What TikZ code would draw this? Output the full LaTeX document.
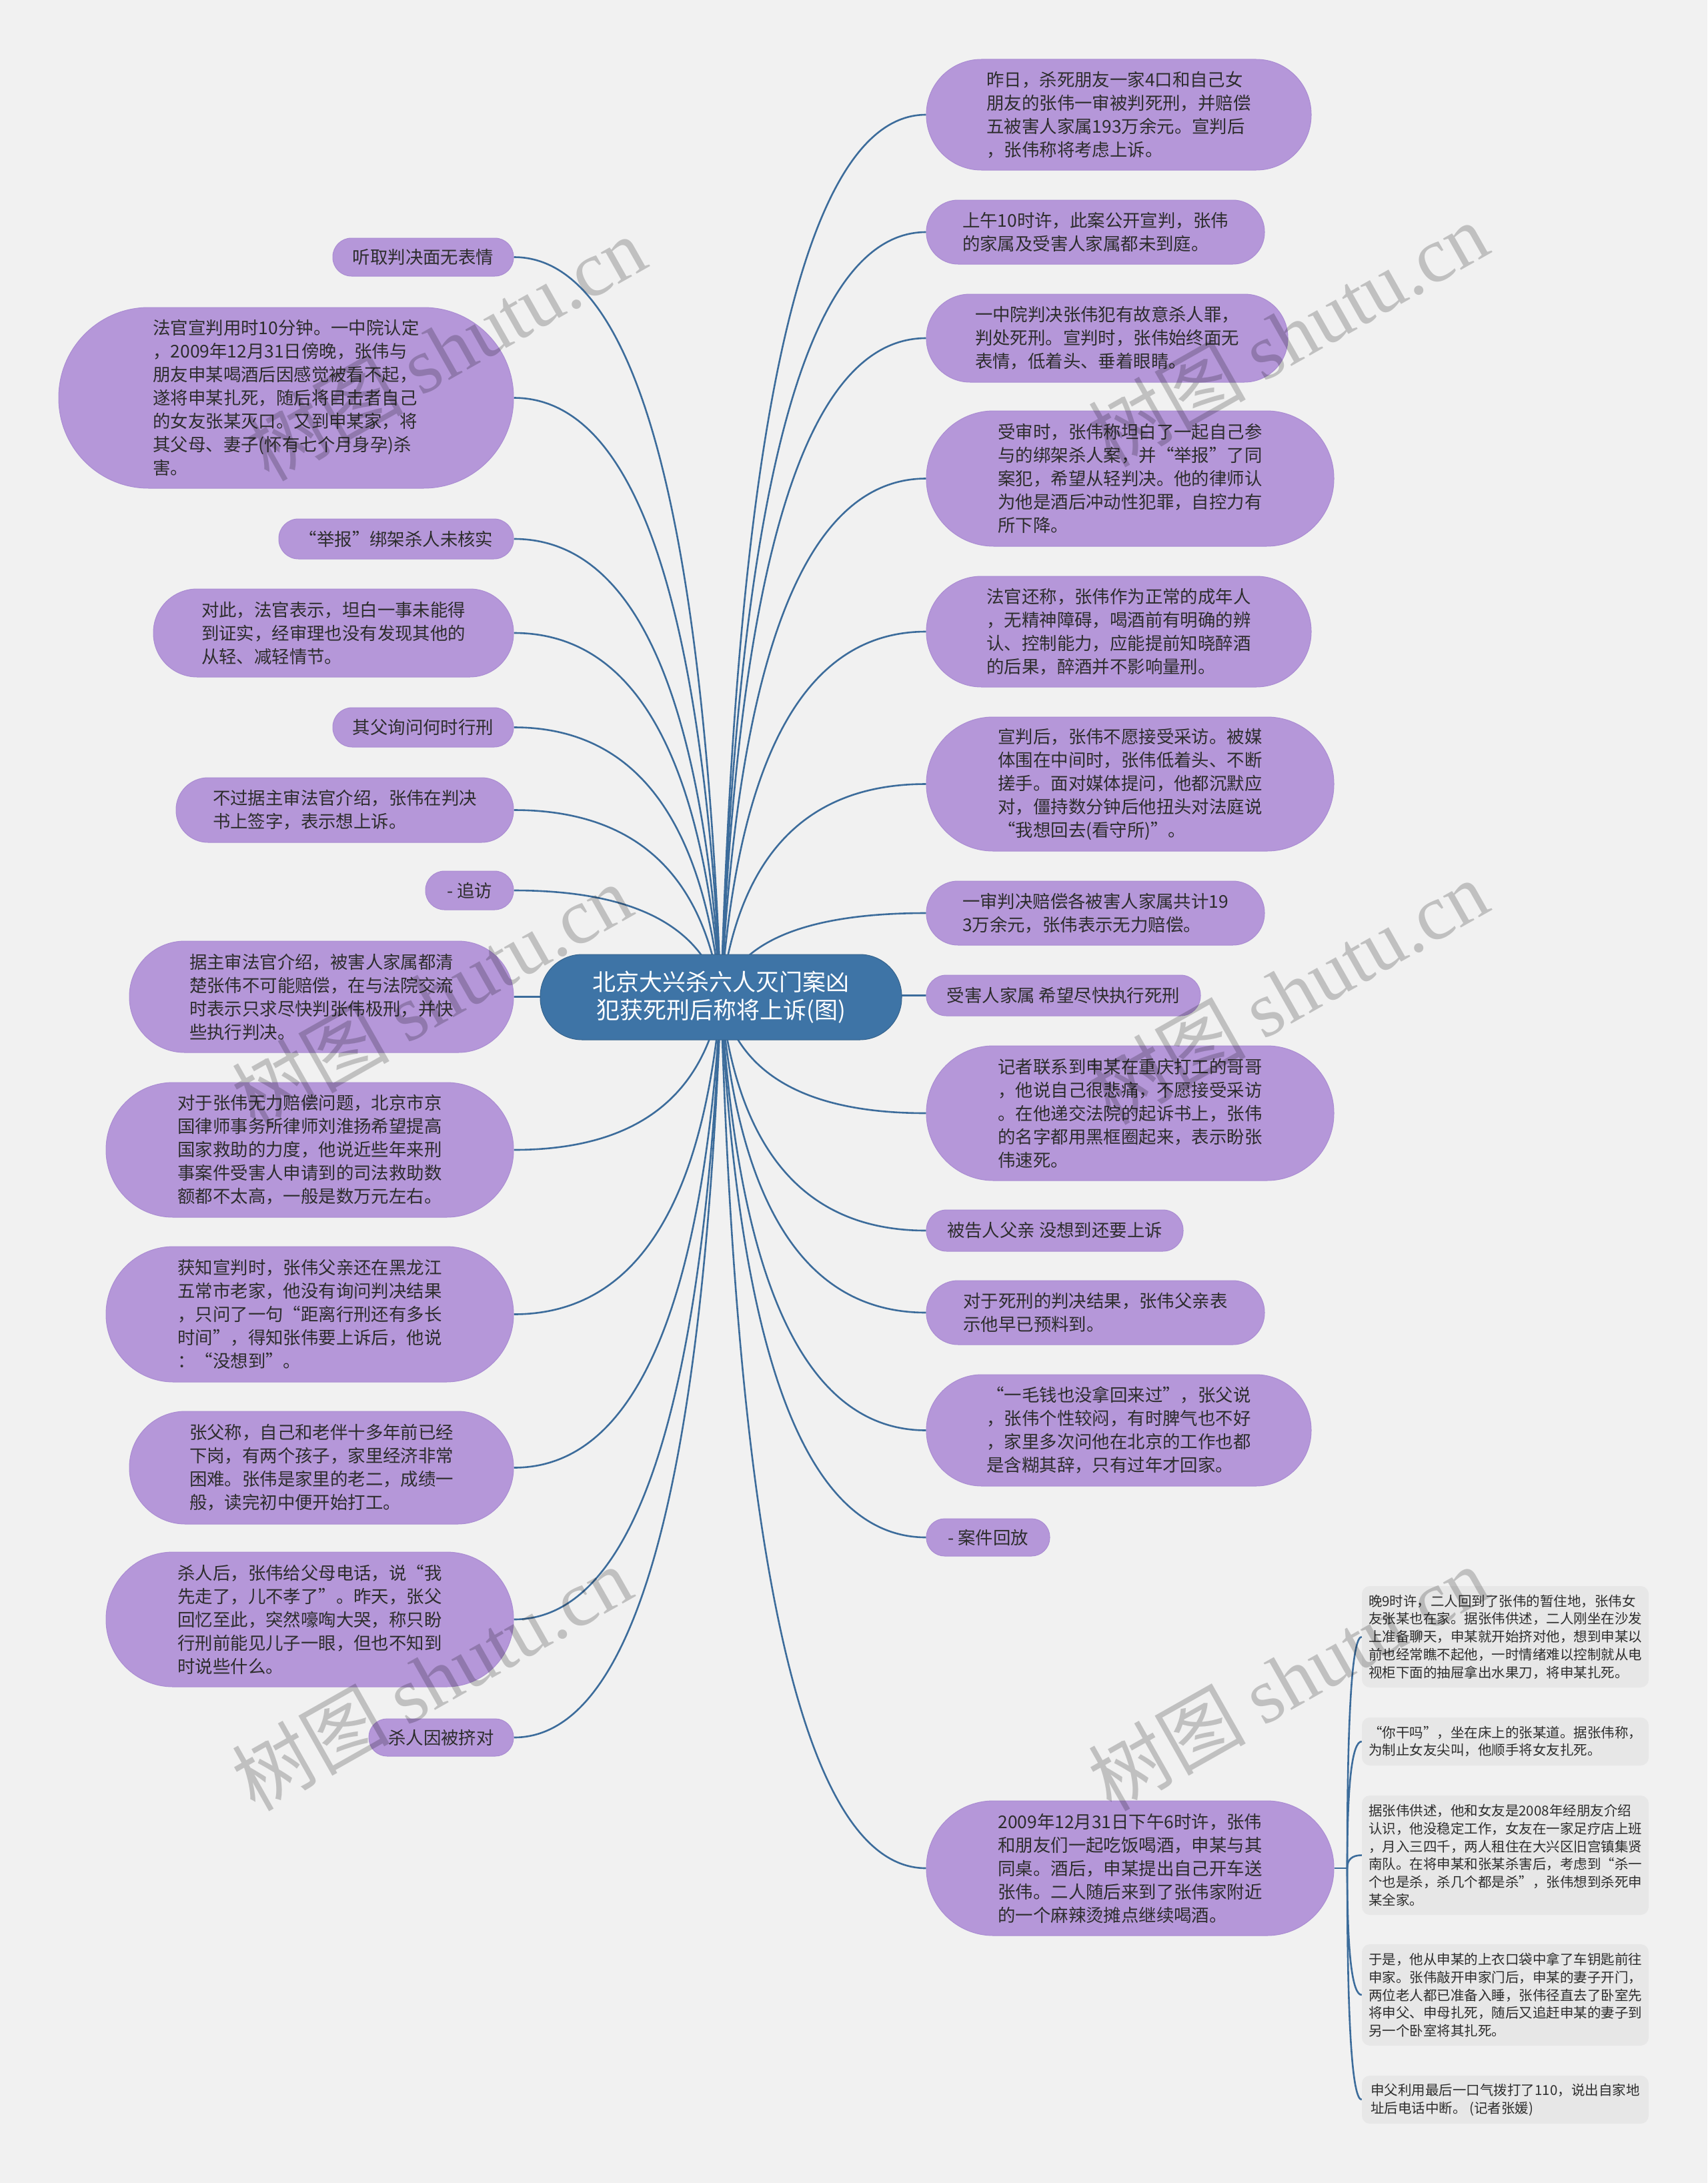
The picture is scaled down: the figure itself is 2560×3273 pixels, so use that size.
\documentclass[tikz,border=0pt]{standalone}
\usepackage{fontspec}
\setmainfont{Noto Sans CJK SC}
\newfontfamily\wmserif{Liberation Serif}
\usetikzlibrary{calc}
\definecolor{bgc}{RGB}{241,241,241}
\definecolor{pur}{RGB}{181,151,217}
\definecolor{purd}{RGB}{170,140,210}
\definecolor{cblue}{RGB}{62,116,166}
\definecolor{lnc}{RGB}{60,108,155}
\definecolor{gbox}{RGB}{231,231,231}
\definecolor{txt}{RGB}{45,45,45}
\pgfdeclarelayer{bg}\pgfdeclarelayer{lines}\pgfsetlayers{bg,lines,main}
\tikzset{
 leaf/.style={fill=pur, draw=purd, line width=1pt, text=txt, align=left, inner sep=0pt, font=\fontsize{26.4}{35}\selectfont},
 sz/.style n args={3}{minimum width=#1pt, minimum height=#2pt, rounded corners=#3pt},
 root/.style={fill=cblue, draw=cblue!85!black, line width=1pt, text=white, align=center, inner sep=0pt, font=\fontsize{35}{42}\selectfont},
 note/.style={fill=gbox, text=txt, align=left, inner sep=0pt, minimum width=430pt, rounded corners=12pt, font=\fontsize{20.5}{26.7}\selectfont},
 conn/.style={draw=lnc, line width=2.6pt},
 wm/.style={rotate=29.5, text=black, opacity=0.2, font=\fontsize{118}{118}\selectfont},
}
\newcommand\lconn[1]{\draw[conn] (#1.east) .. controls ($(#1.east)!0.667!(#1.east -| cL)$) and ($(C.center)!0.667!(#1.east -| cL)$) .. (C.center);}
\newcommand\rconn[1]{\draw[conn] (#1.west) .. controls ($(#1.west)!0.667!(#1.west -| cR)$) and ($(C.center)!0.667!(#1.west -| cR)$) .. (C.center);}
\newcommand\gconn[1]{\draw[conn] (B) .. controls ($(B)!0.667!(B |- #1.west)$) and ($(#1.west)!0.667!(B |- #1.west)$) .. (#1.west);}
\begin{document}
\begin{tikzpicture}[x=1pt,y=-1pt]
\useasboundingbox (0,0) rectangle (2560,3273);
\begin{pgfonlayer}{bg}
\fill[bgc] (0,0) rectangle (2560,3273);
\end{pgfonlayer}

% root
\node[root, sz={542}{128}{63}] (C) at (1081,1495) {北京大兴杀六人灭门案凶\\犯获死刑后称将上诉(图)};
\coordinate (cL) at (1040,1495);
\coordinate (cR) at (1120,1495);

% left
\node[leaf, sz={271}{57}{28}] (L1) at (634.5,385.5) {听取判决面无表情};
\node[leaf, sz={682}{271}{135}] (L2) at (429,596.5) {法官宣判用时10分钟。一中院认定\\，2009年12月31日傍晚，张伟与\\朋友申某喝酒后因感觉被看不起，\\遂将申某扎死，随后将目击者自己\\的女友张某灭口。又到申某家，将\\其父母、妻子(怀有七个月身孕)杀\\害。};
\node[leaf, sz={352}{60}{29.5}] (L3) at (594,808) {“举报”绑架杀人未核实};
\node[leaf, sz={540}{132}{65.5}] (L4) at (500,949) {对此，法官表示，坦白一事未能得\\到证实，经审理也没有发现其他的\\从轻、减轻情节。};
\node[leaf, sz={271}{59}{29}] (L5) at (634.5,1090.5) {其父询问何时行刑};
\node[leaf, sz={506}{97}{48}] (L6) at (517,1214.5) {不过据主审法官介绍，张伟在判决\\书上签字，表示想上诉。};
\node[leaf, sz={132}{58}{28.5}] (L7) at (704,1335) {- 追访};
\node[leaf, sz={576}{167}{83}] (L8) at (482,1494.5) {据主审法官介绍，被害人家属都清\\楚张伟不可能赔偿，在与法院交流\\时表示只求尽快判张伟极刑，并快\\些执行判决。};
\node[leaf, sz={611}{202}{100.5}] (L9) at (464.5,1724) {对于张伟无力赔偿问题，北京市京\\国律师事务所律师刘淮扬希望提高\\国家救助的力度，他说近些年来刑\\事案件受害人申请到的司法救助数\\额都不太高，一般是数万元左右。};
\node[leaf, sz={611}{203}{101}] (L10) at (464.5,1970.5) {获知宣判时，张伟父亲还在黑龙江\\五常市老家，他没有询问判决结果\\，只问了一句“距离行刑还有多长\\时间”，得知张伟要上诉后，他说\\：“没想到”。};
\node[leaf, sz={576}{169}{84}] (L11) at (482,2200.5) {张父称，自己和老伴十多年前已经\\下岗，有两个孩子，家里经济非常\\困难。张伟是家里的老二，成绩一\\般，读完初中便开始打工。};
\node[leaf, sz={611}{202}{100.5}] (L12) at (464.5,2428) {杀人后，张伟给父母电话，说“我\\先走了，儿不孝了”。昨天，张父\\回忆至此，突然嚎啕大哭，称只盼\\行刑前能见儿子一眼，但也不知到\\时说些什么。};
\node[leaf, sz={217}{56}{27.5}] (L13) at (661.5,2605) {杀人因被挤对};

% right
\node[leaf, sz={577}{166}{82.5}] (R1) at (1677.5,172) {昨日，杀死朋友一家4口和自己女\\朋友的张伟一审被判死刑，并赔偿\\五被害人家属193万余元。宣判后\\，张伟称将考虑上诉。};
\node[leaf, sz={507}{96}{47.5}] (R2) at (1642.5,348) {上午10时许，此案公开宣判，张伟\\的家属及受害人家属都未到庭。};
\node[leaf, sz={542}{132}{65.5}] (R3) at (1660,507) {一中院判决张伟犯有故意杀人罪，\\判处死刑。宣判时，张伟始终面无\\表情，低着头、垂着眼睛。};
\node[leaf, sz={611}{203}{101}] (R4) at (1694.5,717.5) {受审时，张伟称坦白了一起自己参\\与的绑架杀人案，并“举报”了同\\案犯，希望从轻判决。他的律师认\\为他是酒后冲动性犯罪，自控力有\\所下降。};
\node[leaf, sz={577}{166}{82.5}] (R5) at (1677.5,947) {法官还称，张伟作为正常的成年人\\，无精神障碍，喝酒前有明确的辨\\认、控制能力，应能提前知晓醉酒\\的后果，醉酒并不影响量刑。};
\node[leaf, sz={611}{201}{100}] (R6) at (1694.5,1175.5) {宣判后，张伟不愿接受采访。被媒\\体围在中间时，张伟低着头、不断\\搓手。面对媒体提问，他都沉默应\\对，僵持数分钟后他扭头对法庭说\\“我想回去(看守所)”。};
\node[leaf, sz={507}{96}{47.5}] (R7) at (1642.5,1369) {一审判决赔偿各被害人家属共计19\\3万余元，张伟表示无力赔偿。};
\node[leaf, sz={411}{61}{30}] (R8) at (1594.5,1492.5) {受害人家属 希望尽快执行死刑};
\node[leaf, sz={611}{202}{100.5}] (R9) at (1694.5,1669) {记者联系到申某在重庆打工的哥哥\\，他说自己很悲痛，不愿接受采访\\。在他递交法院的起诉书上，张伟\\的名字都用黑框圈起来，表示盼张\\伟速死。};
\node[leaf, sz={385}{62}{30.5}] (R10) at (1581.5,1845) {被告人父亲 没想到还要上诉};
\node[leaf, sz={507}{96}{47.5}] (R11) at (1642.5,1968) {对于死刑的判决结果，张伟父亲表\\示他早已预料到。};
\node[leaf, sz={577}{167}{83}] (R12) at (1677.5,2144.5) {“一毛钱也没拿回来过”，张父说\\，张伟个性较闷，有时脾气也不好\\，家里多次问他在北京的工作也都\\是含糊其辞，只有过年才回家。};
\node[leaf, sz={185}{56}{27.5}] (R13) at (1481.5,2305) {- 案件回放};
\node[leaf, sz={611}{202}{100.5}] (R14) at (1694.5,2801) {2009年12月31日下午6时许，张伟\\和朋友们一起吃饭喝酒，申某与其\\同桌。酒后，申某提出自己开车送\\张伟。二人随后来到了张伟家附近\\的一个麻辣烫摊点继续喝酒。};

% notes
\node[note, minimum height=152pt] (G1) at (2257,2454) {晚9时许，二人回到了张伟的暂住地，张伟女\\友张某也在家。据张伟供述，二人刚坐在沙发\\上准备聊天，申某就开始挤对他，想到申某以\\前也经常瞧不起他，一时情绪难以控制就从电\\视柜下面的抽屉拿出水果刀，将申某扎死。};
\node[note, minimum height=72pt] (G2) at (2257,2611) {“你干吗”，坐在床上的张某道。据张伟称，\\为制止女友尖叫，他顺手将女友扎死。};
\node[note, minimum height=179pt] (G3) at (2257,2781.5) {据张伟供述，他和女友是2008年经朋友介绍\\认识，他没稳定工作，女友在一家足疗店上班\\，月入三四千，两人租住在大兴区旧宫镇集贤\\南队。在将申某和张某杀害后，考虑到“杀一\\个也是杀，杀几个都是杀”，张伟想到杀死申\\某全家。};
\node[note, minimum height=152pt] (G4) at (2257,2991) {于是，他从申某的上衣口袋中拿了车钥匙前往\\申家。张伟敲开申家门后，申某的妻子开门，\\两位老人都已准备入睡，张伟径直去了卧室先\\将申父、申母扎死，随后又追赶申某的妻子到\\另一个卧室将其扎死。};
\node[note, minimum height=72pt] (G5) at (2257,3148) {申父利用最后一口气拨打了110，说出自家地\\址后电话中断。 (记者张媛)};
\coordinate (B) at (2020,2801);

% connectors
\begin{pgfonlayer}{lines}
\foreach \n in {L1,L2,L3,L4,L5,L6,L7,L8,L9,L10,L11,L12,L13} {\lconn{\n}}
\foreach \n in {R1,R2,R3,R4,R5,R6,R7,R8,R9,R10,R11,R12,R13,R14} {\rconn{\n}}
\draw[conn] (R14.east) -- (B);
\foreach \n in {G1,G2,G3,G4,G5} {\gconn{\n}}
\end{pgfonlayer}

% watermarks
\node[wm] (W1) at (668,522) {树图 {\wmserif shutu.cn}};
\node[wm] (W2) at (1931,501) {树图 {\wmserif shutu.cn}};
\node[wm] (W3) at (647,1493) {树图 {\wmserif shutu.cn}};
\node[wm] (W4) at (1931,1487) {树图 {\wmserif shutu.cn}};
\node[wm] (W5) at (647,2516) {树图 {\wmserif shutu.cn}};
\node[wm] (W6) at (1931,2516) {树图 {\wmserif shutu.cn}};
\end{tikzpicture}
\end{document}
